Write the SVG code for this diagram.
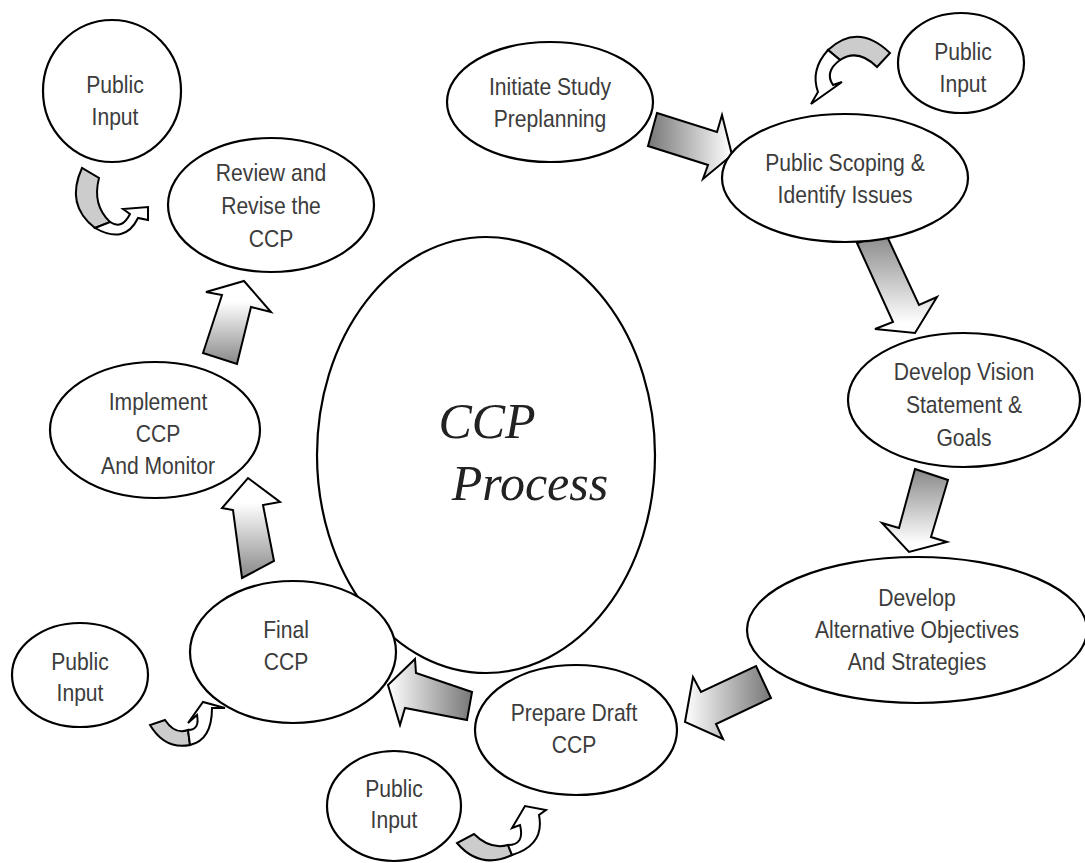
<svg xmlns="http://www.w3.org/2000/svg" width="1085" height="863" viewBox="0 0 1085 863">
<style>
.n{fill:#fff;stroke:#000;stroke-width:2.2}
.t{font-family:"Liberation Sans",Arial,sans-serif;font-size:24px;fill:#3c3c3c;text-anchor:middle}
.big{font-family:"Liberation Serif","Times New Roman",serif;font-style:italic;font-size:50px;fill:#222;text-anchor:middle}
.ba{stroke:#000;stroke-width:2;stroke-linejoin:miter}
.g{fill:#ccc;stroke:#000;stroke-width:2}
.w{fill:#fff;stroke:#000;stroke-width:2}
</style>
<defs>
<linearGradient id="gA" x1="0" y1="0" x2="1" y2="0"><stop offset="0" stop-color="#777"/><stop offset="1" stop-color="#fff"/></linearGradient>
<linearGradient id="gB" x1="0" y1="0" x2="0" y2="1"><stop offset="0" stop-color="#888"/><stop offset="0.9" stop-color="#fff"/></linearGradient>
<linearGradient id="gL" x1="0" y1="0" x2="1" y2="0"><stop offset="0" stop-color="#fff"/><stop offset="1" stop-color="#777"/></linearGradient>
<linearGradient id="gU" x1="0" y1="0" x2="0" y2="1"><stop offset="0.25" stop-color="#fff"/><stop offset="1" stop-color="#888"/></linearGradient>
</defs>
<g id="connectors">
<polygon class="ba" fill="url(#gA)" points="657,113 717,132 722,115 732,155 703,179 708,165 648,146"/>
<polygon class="ba" fill="url(#gB)" points="857,243 886,234 919,305 937,297 915,333 875,329 893,322"/>
<polygon class="ba" fill="url(#gB)" points="915,469 948,480 931,537 947,542 909,552 882,523 899,528"/>
<polygon class="ba" fill="url(#gL)" points="756,666 771,698 716,724 723,739 685,722 693,677 701,692"/>
<polygon class="ba" fill="url(#gL)" points="472,692 467,720 405,708 400,725 388,685 415,659 416,673"/>
<polygon class="ba" fill="url(#gU)" points="242,578 274,561 263,505 280,502 248,478 222,508 233,510"/>
<polygon class="ba" fill="url(#gU)" points="203,353 237,364 251,307 271,312 244,281 206,292 222,295"/>
<path class="g" d="M890,53 Q858,22 828,50 L840,60 Q858,48 877,67 Z"/>
<path class="w" d="M828,50 Q810,70 818,92 L811,104 L842,82 L833,85 Q824,72 840,60 Z"/>
<path class="g" d="M82,168 Q65,205 95,228 L110,222 Q92,205 99,178 Z"/>
<path class="w" d="M95,228 Q125,245 138,218 L148,220 L148,207 L123,209 L130,214 Q122,230 110,222 Z"/>
<path class="g" d="M150,725 Q165,750 190,745 L188,730 Q175,735 165,720 Z"/>
<path class="w" d="M190,745 Q212,740 212,708 L225,708 L203,702 L188,723 L197,715 Q200,730 188,730 Z"/>
<path class="g" d="M457,843 Q480,870 512,855 L508,845 Q490,850 474,834 Z"/>
<path class="w" d="M512,855 Q545,845 539,815 L546,810 L525,806 L512,828 L520,825 Q525,845 508,845 Z"/>
</g>
<g id="n-center"><ellipse class="n" cx="486" cy="455" rx="169" ry="218"/><text class="big" x="487" y="438">CCP</text><text class="big" x="530" y="500">Process</text></g>
<g id="n-initiate"><ellipse class="n" cx="550" cy="102" rx="103" ry="60"/><text class="t" transform="translate(550,95) scale(0.88,1)">Initiate Study</text><text class="t" transform="translate(550,127) scale(0.88,1)">Preplanning</text></g>
<g id="n-scoping"><ellipse class="n" cx="845" cy="178" rx="123" ry="64"/><text class="t" transform="translate(845,171) scale(0.88,1)">Public Scoping &amp;</text><text class="t" transform="translate(845,203) scale(0.88,1)">Identify Issues</text></g>
<g id="n-pi1"><ellipse class="n" cx="961" cy="63" rx="63" ry="50"/><text class="t" transform="translate(963,60) scale(0.88,1)">Public</text><text class="t" transform="translate(963,92) scale(0.88,1)">Input</text></g>
<g id="n-vision"><ellipse class="n" cx="964" cy="400" rx="116" ry="67"/><text class="t" transform="translate(964,380) scale(0.88,1)">Develop Vision</text><text class="t" transform="translate(964,413) scale(0.88,1)">Statement &amp;</text><text class="t" transform="translate(964,446) scale(0.88,1)">Goals</text></g>
<g id="n-alt"><ellipse class="n" cx="917" cy="630" rx="170" ry="73"/><text class="t" transform="translate(917,606) scale(0.88,1)">Develop</text><text class="t" transform="translate(917,638) scale(0.88,1)">Alternative Objectives</text><text class="t" transform="translate(917,670) scale(0.88,1)">And Strategies</text></g>
<g id="n-draft"><ellipse class="n" cx="576" cy="730" rx="101" ry="65"/><text class="t" transform="translate(574,721) scale(0.88,1)">Prepare Draft</text><text class="t" transform="translate(574,753) scale(0.88,1)">CCP</text></g>
<g id="n-pi2"><ellipse class="n" cx="394" cy="806" rx="67" ry="55"/><text class="t" transform="translate(394,797) scale(0.88,1)">Public</text><text class="t" transform="translate(394,828) scale(0.88,1)">Input</text></g>
<g id="n-final"><ellipse class="n" cx="293" cy="652" rx="103" ry="71"/><text class="t" transform="translate(286,638) scale(0.88,1)">Final</text><text class="t" transform="translate(286,670) scale(0.88,1)">CCP</text></g>
<g id="n-pi3"><ellipse class="n" cx="80" cy="675" rx="68" ry="52"/><text class="t" transform="translate(80,670) scale(0.88,1)">Public</text><text class="t" transform="translate(80,701) scale(0.88,1)">Input</text></g>
<g id="n-implement"><ellipse class="n" cx="155" cy="430" rx="105" ry="68"/><text class="t" transform="translate(158,410) scale(0.88,1)">Implement</text><text class="t" transform="translate(158,442) scale(0.88,1)">CCP</text><text class="t" transform="translate(158,474) scale(0.88,1)">And Monitor</text></g>
<g id="n-review"><ellipse class="n" cx="271" cy="205" rx="103" ry="67"/><text class="t" transform="translate(271,181) scale(0.88,1)">Review and</text><text class="t" transform="translate(271,214) scale(0.88,1)">Revise the</text><text class="t" transform="translate(271,247) scale(0.88,1)">CCP</text></g>
<g id="n-pi4"><ellipse class="n" cx="112" cy="91" rx="69" ry="71"/><text class="t" transform="translate(115,93) scale(0.88,1)">Public</text><text class="t" transform="translate(115,125) scale(0.88,1)">Input</text></g>
</svg>
